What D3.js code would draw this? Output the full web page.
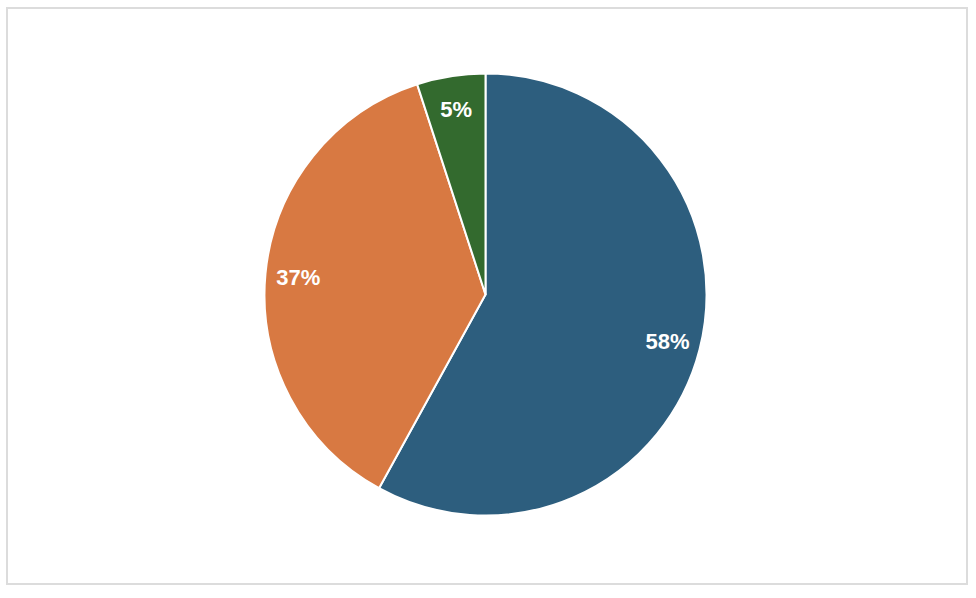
<!DOCTYPE html>
<html>
<head>
<meta charset="utf-8">
<script src="https://cdn.jsdelivr.net/npm/d3@7"></script>
<style>
  html, body { margin: 0; padding: 0; background: #fff; }
</style>
</head>
<body>
<svg id="chart" width="976" height="598"></svg>
<script>
const categories = ["A", "B", "C"];
const values = [58, 37, 5];
const labels = ["58%", "37%", "5%"];
const colors = ["#2d5e7e", "#d87942", "#336a2e"];

const svg = d3.select("#chart");
svg.append("rect")
  .attr("x", 7).attr("y", 8).attr("width", 960).attr("height", 576)
  .attr("fill", "#fff").attr("stroke", "#dcdcdc").attr("stroke-width", 2);

const cx = 485.5, cy = 294.5, r = 221;
const g = svg.append("g").attr("transform", `translate(${cx},${cy})`);

const pie = d3.pie().sort(null).value(d => d.value);
const data = pie(categories.map((c, i) => ({ cat: c, value: values[i], label: labels[i], color: colors[i] })));

const arc = d3.arc().innerRadius(0).outerRadius(r);
const labelArc = d3.arc().innerRadius(188).outerRadius(188);

g.selectAll("path.slice").data(data).join("path")
  .attr("class", "slice")
  .attr("d", arc)
  .attr("fill", d => d.data.color)
  .attr("stroke", "#fff")
  .attr("stroke-width", 2)
  .attr("stroke-linejoin", "round");

g.selectAll("text.lbl").data(data).join("text")
  .attr("class", "lbl")
  .attr("transform", d => `translate(${labelArc.centroid(d)})`)
  .attr("text-anchor", "middle")
  .attr("dy", "0.35em")
  .attr("fill", "#fff")
  .attr("font-family", "Liberation Sans, Arial, Helvetica, sans-serif")
  .attr("font-weight", "bold")
  .attr("font-size", 22)
  .text(d => d.data.label);
</script>
</body>
</html>
